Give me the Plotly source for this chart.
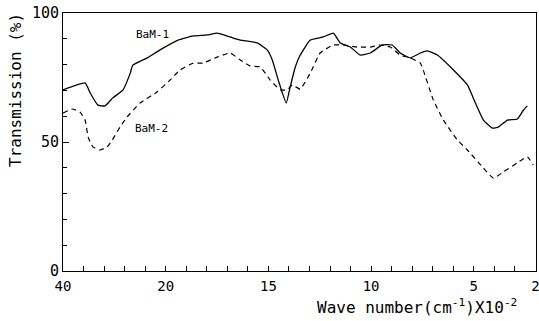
import plotly.graph_objects as go

# Wave number in units of 100 cm^-1, transmission in %
bam1_wave = [40.0, 35.7, 34.7, 33.2, 31.8, 30.3, 28.3, 26.9, 26.4, 23.6, 21.1,
             19.4, 18.66, 17.98, 17.5, 16.86, 16.37, 15.55, 15.06, 14.81, 14.52,
             14.13, 13.94, 13.69, 13.45, 12.96, 12.33, 11.84, 11.5, 11.01, 10.53,
             10.04, 9.45, 8.97, 8.58, 8.09, 7.6, 7.26, 6.77, 5.99, 5.31, 4.92,
             4.53, 4.09, 3.8, 3.36, 2.88, 2.58, 2.39]
bam1_trans = [70.2, 72.9, 69.0, 64.3, 64.0, 67.1, 70.2, 76.7, 79.8, 82.6, 85.7,
              89.5, 91.1, 91.5, 92.2, 90.7, 89.5, 88.4, 85.7, 81.8, 74.0,
              65.1, 71.3, 79.1, 83.7, 89.5, 90.7, 92.2, 88.4, 86.8, 83.7,
              84.5, 87.6, 87.6, 84.5, 82.6, 84.5, 85.3, 83.7, 77.9, 72.1, 65.1,
              58.5, 55.4, 55.8, 58.5, 58.9, 62.4, 64.0]

bam2_wave = [40.0, 38.2, 36.7, 35.7, 35.1, 34.2, 32.8, 31.4, 30.4, 28.9, 27.5,
             25.0, 21.7, 19.79, 19.3, 18.66, 18.18, 17.5, 16.86, 16.37, 15.89,
             15.4, 14.91, 14.42, 14.08, 13.84, 13.45, 12.96, 12.48, 11.84, 11.35,
             10.67, 10.04, 9.55, 9.06, 8.58, 8.09, 7.6, 7.46, 6.97, 6.48, 5.8,
             5.31, 4.53, 4.04, 3.56, 2.88, 2.39, 2.1]
bam2_trans = [61.2, 62.8, 61.6, 58.5, 51.9, 48.1, 46.9, 48.1, 50.8, 55.8, 59.7,
              65.1, 69.4, 74.0, 77.9, 80.6, 80.6, 82.9, 84.5, 81.8, 79.5,
              79.1, 74.0, 70.2, 70.2, 72.1, 70.5, 76.7, 84.5, 87.6, 87.6,
              86.8, 86.8, 87.6, 86.8, 83.7, 82.6, 80.6, 77.9, 66.3, 58.5, 50.8,
              46.9, 39.9, 36.0, 38.4, 41.9, 44.2, 41.1]

x_tick_labels = [40, 20, 15, 10, 5, 2]
y_tick_labels = [0, 50, 100]


def to_axis(w):
    """Piecewise IR scale: 4000-2000 compressed 4x relative to 2000-200."""
    return (40 - w) / 4 if w >= 20 else 5 + (20 - w)


FONT = "DejaVu Sans Mono"
W, H = 539, 321
ML, MR, MT, MB = 63, 3, 13, 50
PW, PH = W - ML - MR, H - MT - MB


def px_to_paper(px, py):
    return (px - ML) / PW, (H - MB - py) / PH


fig = go.Figure()
fig.add_trace(go.Scatter(
    x=[to_axis(w) for w in bam1_wave], y=bam1_trans, mode="lines",
    line=dict(color="black", width=1.3, shape="spline", smoothing=0.4),
    name="BaM-1", showlegend=False))
fig.add_trace(go.Scatter(
    x=[to_axis(w) for w in bam2_wave], y=bam2_trans, mode="lines",
    line=dict(color="black", width=1.2, dash="5px,4px", shape="spline", smoothing=0.4),
    name="BaM-2", showlegend=False))

xt_x, xt_y = px_to_paper(519, 306)
yt_x, yt_y = px_to_paper(15, 90)

fig.update_layout(
    width=W, height=H,
    margin=dict(l=ML, r=MR, t=MT, b=MB, autoexpand=False),
    paper_bgcolor="white", plot_bgcolor="white",
    font=dict(family=FONT, color="black", size=14),
    xaxis=dict(
        range=[0, 23.03], tickvals=[to_axis(t) for t in x_tick_labels],
        ticktext=[str(t) for t in x_tick_labels], automargin=False,
        ticklabeloverflow="allow",
        ticks="inside", ticklen=5, tickcolor="black", ticklabelstandoff=2,
        minor=dict(dtick=1, tick0=0, ticks="inside", ticklen=5, tickcolor="black"),
        showline=True, linecolor="black", linewidth=1, mirror=True,
        showgrid=False, zeroline=False, tickfont=dict(size=14, family=FONT)),
    yaxis=dict(
        range=[0, 100], tickvals=y_tick_labels,
        ticktext=[str(t) for t in y_tick_labels], automargin=False,
        ticklabeloverflow="allow",
        ticks="inside", ticklen=6, tickcolor="black",
        minor=dict(dtick=10, ticks="inside", ticklen=4, tickcolor="black"),
        showline=True, linecolor="black", linewidth=1, mirror=True,
        showgrid=False, zeroline=False, tickfont=dict(size=15, family=FONT)),
    annotations=[
        dict(text="BaM-1", x=4.34, y=91.5, xref="x", yref="y", showarrow=False,
             font=dict(size=11, family=FONT)),
        dict(text="BaM-2", x=4.29, y=55.4, xref="x", yref="y", showarrow=False,
             font=dict(size=11, family=FONT)),
        dict(text="Wave number(cm<sup>-1</sup>)X10<sup>-2</sup>", x=xt_x, y=xt_y,
             xref="paper", yref="paper", showarrow=False, xanchor="right",
             yanchor="middle", font=dict(size=16, family=FONT)),
        dict(text="Transmission (%)", textangle=-90, x=yt_x, y=yt_y,
             xref="paper", yref="paper", showarrow=False, xanchor="center",
             yanchor="middle", font=dict(size=16, family=FONT)),
    ],
)

fig.write_html("out.html", config={"displayModeBar": False},
               post_script="document.body.style.margin='0';")
